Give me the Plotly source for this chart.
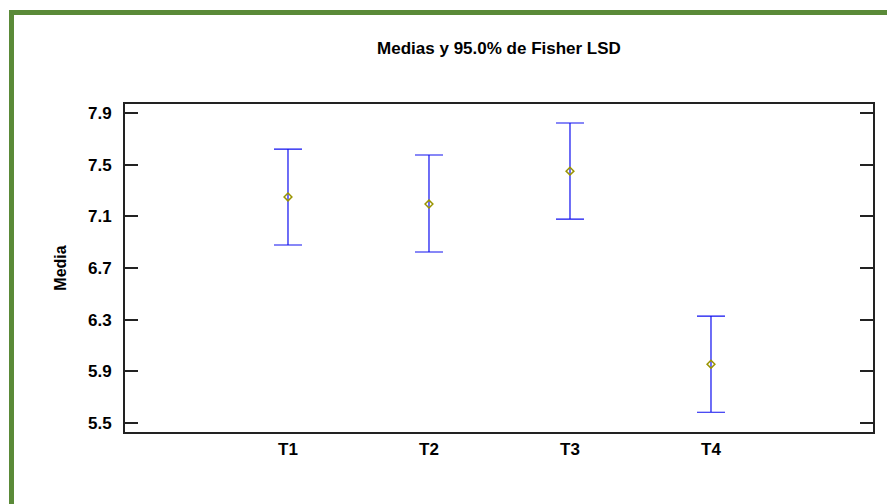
import plotly.graph_objects as go

categories = ["T1", "T2", "T3", "T4"]
means = [7.25, 7.195, 7.45, 5.955]
lower = [6.878, 6.824, 7.079, 5.583]
upper = [7.621, 7.575, 7.823, 6.328]
ytick_vals = [5.5, 5.9, 6.3, 6.7, 7.1, 7.5, 7.9]
ytick_text = ["5.5", "5.9", "6.3", "6.7", "7.1", "7.5", "7.9"]

xpos = list(range(len(categories)))
err_plus = [u - m for u, m in zip(upper, means)]
err_minus = [m - l for m, l in zip(means, lower)]

fig = go.Figure()
fig.add_trace(go.Scatter(
    x=xpos, y=means, mode="markers",
    marker=dict(symbol="diamond-open", size=6, color="#9a9400", line=dict(width=1.5)),
    error_y=dict(type="data", symmetric=False, array=err_plus, arrayminus=err_minus,
                 color="#1010f0", thickness=1.2, width=14),
    showlegend=False, hoverinfo="skip",
))

font_fam = "Liberation Sans, Arial, sans-serif"

fig.update_layout(
    width=887, height=504,
    margin=dict(l=125, r=14, t=104, b=72),
    paper_bgcolor="white", plot_bgcolor="white",
    font=dict(family=font_fam, size=17, color="black"),
    title=dict(text="<b>Medias y 95.0% de Fisher LSD</b>", x=499 / 887, xanchor="center",
               y=1 - 48 / 504, yanchor="middle", font=dict(size=17)),
    xaxis=dict(
        range=[-1.156, 4.149], tickmode="array", tickvals=xpos,
        ticktext=["<b>%s</b>" % c for c in categories],
        showgrid=False, zeroline=False, showline=True, linecolor="#222", linewidth=2,
        mirror=True, ticks="", ticklabelstandoff=1, tickfont=dict(size=17),
    ),
    yaxis=dict(
        range=[5.43, 7.97], tickmode="array", tickvals=ytick_vals,
        ticktext=["<b>%s</b>" % t for t in ytick_text],
        showgrid=False, zeroline=False, showline=True, linecolor="#222", linewidth=2,
        mirror="ticks", ticks="inside", ticklen=13, tickwidth=1.5, tickcolor="#222",
        ticklabelstandoff=8, tickfont=dict(size=17),
        title=dict(text="<b>Media</b>", standoff=17, font=dict(size=16)),
    ),
    shapes=[
        dict(type="rect", xref="paper", yref="paper",
             x0=(11.5 - 125) / 748, x1=1.5, y0=-0.5, y1=(432 - 12.5) / 328,
             line=dict(color="#5a8a38", width=5), fillcolor="rgba(0,0,0,0)", layer="above"),
    ],
)

fig.write_html("out.html", config={"displayModeBar": False},
               post_script="document.body.style.margin='0';")
